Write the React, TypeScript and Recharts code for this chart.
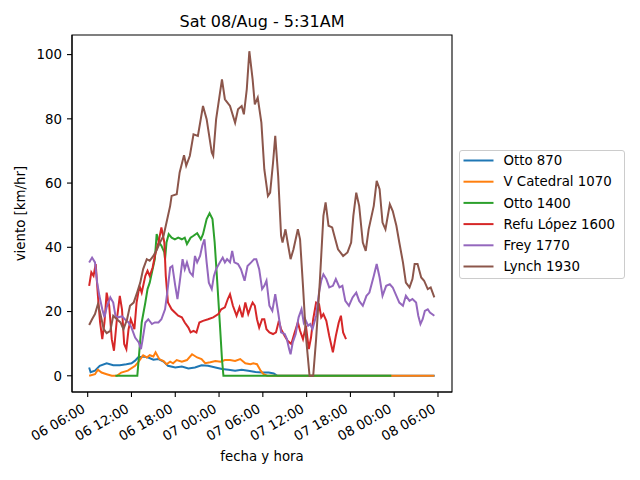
import { LineChart, Line, XAxis, YAxis, ReferenceArea } from 'recharts'

const FONT = '"DejaVu Sans", sans-serif'

// x is hours counted from 06/Aug 00:00, y is wind speed in km/hr
const hourTicks = [6, 12, 18, 24, 30, 36, 42, 48, 54]
const valueTicks = [0, 20, 40, 60, 80, 100]
const hourDomain = [3.85, 55.92]
const valueDomain = [-5.05, 106.1]

const seriesNames = ['Otto 870', 'V Catedral 1070', 'Otto 1400', 'Refu López 1600', 'Frey 1770', 'Lynch 1930']
const seriesColors = ['#1f77b4', '#ff7f0e', '#2ca02c', '#d62728', '#9467bd', '#8c564b']

const otto870: [number, number][] = [
    [6.2, 2.6], [6.4, 1.1], [7.0, 1.6], [7.65, 3.1], [8.6, 3.9], [9.5, 3.3], [10.4, 3.3], [11.3, 3.6],
    [12.0, 3.9], [12.5, 4.7], [12.9, 5.7], [13.6, 6.0], [14.3, 5.7], [15.0, 5.0], [15.7, 5.2], [16.4, 4.4],
    [17.0, 3.1], [18.0, 2.6], [18.9, 2.9], [19.8, 2.3], [20.7, 2.6], [21.6, 3.3], [22.5, 3.1], [23.5, 2.6],
    [24.4, 2.1], [25.3, 1.9], [26.2, 1.6], [27.1, 1.9], [28.0, 1.6], [29.0, 1.2], [29.9, 1.0], [30.8, 1.0],
    [31.5, 0.7], [32.0, 0], [53.55, 0],
]

const vCatedral1070: [number, number][] = [
    [6.2, 0], [7.0, 0.5], [7.4, 1.9], [7.9, 1.0], [8.6, 0.5], [9.3, 0], [10.0, 0], [10.6, 1.0], [11.5, 1.6],
    [12.5, 3.1], [12.9, 4.2], [13.6, 6.4], [14.1, 5.7], [14.5, 6.4], [15.0, 6.0], [15.3, 7.3], [15.8, 5.2],
    [16.4, 4.6], [16.8, 3.6], [17.3, 4.4], [17.7, 3.9], [18.2, 4.9], [18.9, 4.4], [19.6, 4.9], [20.3, 6.7],
    [21.0, 5.7], [21.6, 5.2], [22.1, 3.9], [22.8, 4.2], [23.5, 4.6], [24.2, 4.4], [24.8, 4.9], [25.5, 4.9],
    [26.2, 4.6], [26.9, 5.2], [27.6, 3.9], [28.3, 3.6], [28.7, 3.9], [29.2, 3.6], [29.7, 1.6], [30.1, 0.5],
    [30.6, 0], [53.5, 0],
]

const otto1400: [number, number][] = [
    [9.8, 0], [12.8, 0], [13.1, 8.3], [13.4, 16.6], [13.9, 22.8], [14.2, 27], [14.5, 29], [14.9, 33.2],
    [15.2, 36.3], [15.45, 44.1], [15.8, 41.5], [16.1, 40.5], [16.5, 38.4], [16.6, 36.3], [16.8, 41.5],
    [17.1, 44.1], [17.5, 43], [17.95, 42.5], [18.4, 43], [18.9, 42.5], [19.3, 43], [19.6, 41], [20.1, 43],
    [20.5, 43.6], [21.0, 44.4], [21.5, 42.5], [21.8, 44.1], [22.3, 48.8], [22.7, 50.6], [23.1, 48.8],
    [23.4, 41.5], [23.7, 31.1], [24.1, 16.6], [24.4, 5.2], [24.6, 0], [47.6, 0],
]

const refuLopez1600: [number, number][] = [
    [6.2, 28], [6.5, 32.2], [6.8, 31.1], [7.1, 34.8], [7.4, 24.9], [7.7, 16.6], [8.0, 11.4], [8.3, 16.6],
    [8.6, 25.9], [8.95, 21.8], [9.3, 11.4], [9.6, 7.8], [10.0, 17.6], [10.4, 24.9], [10.7, 20.7], [11.0, 9.9],
    [11.3, 8.3], [11.6, 14.5], [11.9, 17.6], [12.4, 14.5], [12.7, 22.8], [13.1, 28], [13.4, 25.9], [13.9, 31.1],
    [14.2, 32.7], [14.5, 31.1], [14.9, 33.7], [15.2, 37.3], [15.7, 41.5], [16.1, 46.2], [16.5, 41.5],
    [16.7, 31.1], [17.0, 22.8], [17.5, 20.7], [17.95, 19.7], [18.4, 18.7], [18.9, 18.2], [19.3, 16.6],
    [19.8, 15], [20.1, 13.5], [20.5, 14], [20.9, 13.5], [21.3, 16.6], [21.8, 17.1], [22.5, 17.6], [23.2, 18.2],
    [23.9, 19.2], [24.3, 20.7], [24.8, 21.3], [25.2, 23.9], [25.5, 25.4], [25.9, 21.8], [26.4, 18.7],
    [26.8, 21.3], [27.2, 18.2], [27.6, 22.8], [28.0, 19.2], [28.4, 21.8], [28.6, 22.8], [28.9, 21.8],
    [29.2, 17.6], [29.5, 15], [29.9, 17.6], [30.2, 17.6], [30.5, 14.5], [30.9, 13.5], [31.4, 13], [31.8, 13.5],
    [32.2, 17.1], [32.5, 14.5], [33.0, 12.4], [33.4, 10.9], [33.9, 9.9], [34.3, 13], [34.8, 16.6], [35.1, 14],
    [35.5, 11.4], [35.9, 15.6], [36.3, 8.3], [36.6, 11.9], [36.9, 17.6], [37.3, 22.8], [37.7, 22.3],
    [38.0, 18.2], [38.3, 19.2], [38.7, 17.1], [39.1, 12.4], [39.6, 7.3], [40.0, 12.4], [40.4, 16.6],
    [40.7, 18.7], [41.0, 13.5], [41.4, 11.4],
]

const frey1770: [number, number][] = [
    [6.2, 35.3], [6.6, 36.8], [7.0, 35.3], [7.3, 29], [7.6, 24.9], [8.0, 20.7], [8.3, 18.2], [8.6, 21.3],
    [9.1, 24.4], [9.5, 22.8], [9.8, 18.7], [10.2, 18.2], [10.7, 18.5], [11.1, 17.6], [11.6, 16.6], [12.0, 15],
    [12.5, 11.9], [13.0, 10.4], [13.3, 8.3], [13.5, 10.9], [13.9, 16.6], [14.3, 17.6], [14.8, 16.1],
    [15.2, 16.6], [15.7, 16.6], [16.1, 17.6], [16.6, 20.7], [16.9, 25.9], [17.3, 33.7], [17.6, 34.2],
    [18.0, 28], [18.3, 23.9], [18.6, 29], [19.0, 36.3], [19.3, 33.2], [19.6, 35.3], [20.0, 32.2], [20.4, 31.1],
    [20.7, 37.3], [21.0, 35.3], [21.4, 37.3], [21.7, 40.5], [22.0, 42.5], [22.3, 35.3], [22.6, 29], [23.0, 27],
    [23.3, 31.1], [23.6, 33.2], [24.1, 35.3], [24.5, 36.8], [24.8, 35.3], [25.1, 36.3], [25.5, 35.3],
    [25.8, 38.9], [26.1, 35.3], [26.6, 34.8], [27.0, 33.2], [27.5, 29.6], [27.9, 34.2], [28.4, 35.3],
    [28.8, 36.3], [29.1, 36.3], [29.5, 33.2], [29.9, 27], [30.2, 28], [30.5, 29.6], [30.9, 21.8], [31.3, 20.2],
    [31.7, 25.4], [32.1, 19.7], [32.5, 13.5], [33.0, 13], [33.3, 11.4], [33.6, 8.3], [33.8, 6.7], [34.1, 10.4],
    [34.5, 13], [34.9, 18.2], [35.3, 20.7], [35.6, 16.6], [35.8, 17.6], [36.2, 15.6], [36.5, 16.1],
    [36.8, 14.5], [37.3, 18.7], [37.7, 25.9], [38.0, 29.6], [38.3, 31.6], [38.7, 30.1], [39.1, 27.5],
    [39.6, 28], [40.0, 30.1], [40.5, 27.5], [40.9, 28], [41.3, 23.3], [41.8, 21.8], [42.3, 24.4], [42.8, 25.9],
    [43.2, 23.3], [43.7, 21.8], [44.2, 24.9], [44.6, 25.9], [45.2, 31.1], [45.6, 34.8], [46.0, 30.6],
    [46.4, 24.9], [46.9, 28], [47.4, 28.5], [47.8, 27.5], [48.3, 24.9], [48.7, 22.8], [49.2, 21.8],
    [49.6, 24.9], [50.1, 23.3], [50.5, 23.9], [51.0, 22.8], [51.3, 18.7], [51.6, 16.1], [51.9, 17.6],
    [52.2, 20.2], [52.6, 20.7], [52.9, 19.7], [53.5, 18.7],
]

const lynch1930: [number, number][] = [
    [6.2, 15.8], [6.6, 17.6], [7.0, 19.2], [7.4, 22.3], [7.7, 19.7], [8.2, 14.5], [8.6, 13.3], [9.1, 14],
    [9.5, 18.7], [10.0, 17.6], [10.5, 16.6], [10.9, 14.5], [11.4, 17.6], [11.8, 21.8], [12.3, 22.8],
    [12.7, 25.4], [13.2, 29], [13.6, 33.2], [14.1, 36.3], [14.5, 35.8], [15.0, 37.3], [15.5, 39.4],
    [15.9, 41.5], [16.4, 43.6], [16.8, 47.7], [17.3, 52.9], [17.5, 56], [18.2, 56.5], [18.6, 63.3],
    [19.2, 68.7], [19.5, 65.4], [20.0, 68.5], [20.5, 75.2], [21.1, 74.7], [21.8, 84], [22.3, 79.9],
    [23.0, 69.5], [23.2, 68.5], [23.6, 79.9], [24.4, 92.3], [24.8, 86.1], [25.5, 84], [26.2, 78.8], [26.6, 83],
    [27.1, 84], [27.4, 81.4], [27.8, 89.2], [28.15, 101.05], [28.6, 92.3], [28.9, 84.5], [29.3, 86.6],
    [29.8, 78.8], [30.2, 64.3], [30.7, 56], [31.0, 57], [31.4, 66.4], [31.7, 74.7], [32.1, 62.2], [32.5, 43.6],
    [32.7, 41.5], [33.1, 45.6], [33.4, 41.5], [33.8, 36.3], [34.2, 39.4], [34.8, 45.6], [35.1, 42.5],
    [35.5, 28], [35.9, 12.4], [36.4, 0], [36.9, 0], [37.3, 11.4], [37.8, 29], [38.3, 49.8], [38.6, 54],
    [39.0, 46.7], [39.5, 46.2], [39.8, 43.6], [40.3, 39.4], [41.0, 37.3], [41.6, 38.4], [42.1, 41.5],
    [42.4, 49.8], [42.8, 57], [43.2, 52.9], [43.7, 41.5], [44.1, 38.9], [44.5, 45.6], [45.2, 52.9],
    [45.6, 60.7], [46.0, 58.1], [46.4, 47.7], [46.8, 45.6], [47.4, 53.4], [47.8, 51.3], [48.3, 46.7],
    [48.7, 41.5], [49.2, 35.3], [49.6, 29], [50.1, 27.5], [50.5, 30.1], [50.8, 34.8], [51.2, 34.8],
    [51.7, 30.6], [52.1, 29.6], [52.6, 27], [53.0, 27.5], [53.5, 24.4],
]

const seriesData = [otto870, vCatedral1070, otto1400, refuLopez1600, frey1770, lynch1930]

const pad2 = (n: number) => String(n).padStart(2, '0')

function formatHour(h: number) {
    const day = 6 + Math.floor(h / 24)
    return `${pad2(day)} ${pad2(h % 24)}:00`
}

function DateTick(props: any) {
    const { x, y, payload } = props
    const tx = x - 1.5
    const ty = y + 12.5
    return (
        <text
            x={tx}
            y={ty}
            transform={`rotate(-30, ${tx}, ${ty})`}
            textAnchor="end"
            fontSize={13.33}
            fontFamily={FONT}
            fill="#000"
        >
            {formatHour(payload.value)}
        </text>
    )
}

export default function App() {
    return (
        <div style={{ position: 'absolute', left: 0, top: 0, width: 640, height: 480, background: '#fff', fontFamily: FONT }}>
            <LineChart width={640} height={480} margin={{ top: 35, right: 188, left: 12, bottom: 28 }}>
                <XAxis
                    dataKey="h"
                    type="number"
                    domain={hourDomain}
                    ticks={hourTicks}
                    allowDataOverflow
                    height={60}
                    tickSize={5}
                    tick={(p: any) => <DateTick {...p} />}
                    axisLine={{ stroke: '#000', strokeWidth: 1.1 }}
                    tickLine={{ stroke: '#000', strokeWidth: 1.1 }}
                />
                <YAxis
                    type="number"
                    domain={valueDomain}
                    ticks={valueTicks}
                    allowDataOverflow
                    width={60}
                    tickSize={5}
                    tickMargin={5}
                    tick={{ fontSize: 13.33, fill: '#000', fontFamily: FONT }}
                    axisLine={{ stroke: '#000', strokeWidth: 1.1 }}
                    tickLine={{ stroke: '#000', strokeWidth: 1.1 }}
                />
                <ReferenceArea
                    x1={hourDomain[0]}
                    x2={hourDomain[1]}
                    y1={valueDomain[0]}
                    y2={valueDomain[1]}
                    fill="none"
                    stroke="#000"
                    strokeWidth={1.1}
                />
                {seriesData.map((rows, i) => (
                    <Line
                        key={seriesNames[i]}
                        data={rows.map(([h, v]) => ({ h, v }))}
                        dataKey="v"
                        name={seriesNames[i]}
                        type="linear"
                        stroke={seriesColors[i]}
                        strokeWidth={2}
                        dot={false}
                        activeDot={false}
                        isAnimationActive={false}
                    />
                ))}
            </LineChart>
            <svg
                width={640}
                height={480}
                style={{ position: 'absolute', left: 0, top: 0, pointerEvents: 'none' }}
                fontFamily={FONT}
            >
                <text x={262} y={27} textAnchor="middle" fontSize={16} fill="#000">
                    Sat 08/Aug - 5:31AM
                </text>
                <text x={262} y={461} textAnchor="middle" fontSize={13.33} fill="#000">
                    fecha y hora
                </text>
                <text transform="translate(25, 213.6) rotate(-90)" textAnchor="middle" fontSize={13.33} fill="#000">
                    viento [km/hr]
                </text>
                <g transform="translate(459.5, 150.5)">
                    <rect width={165} height={128} rx={2.5} fill="#fff" fillOpacity={0.8} stroke="#cccccc" />
                    {seriesNames.map((name, i) => (
                        <g key={name} transform={`translate(0, ${10 + i * 21.2})`}>
                            <line x1={4} x2={34} y1={0} y2={0} stroke={seriesColors[i]} strokeWidth={2} />
                            <text x={44} y={4.7} fontSize={13.33} fill="#000">
                                {name}
                            </text>
                        </g>
                    ))}
                </g>
            </svg>
        </div>
    )
}
